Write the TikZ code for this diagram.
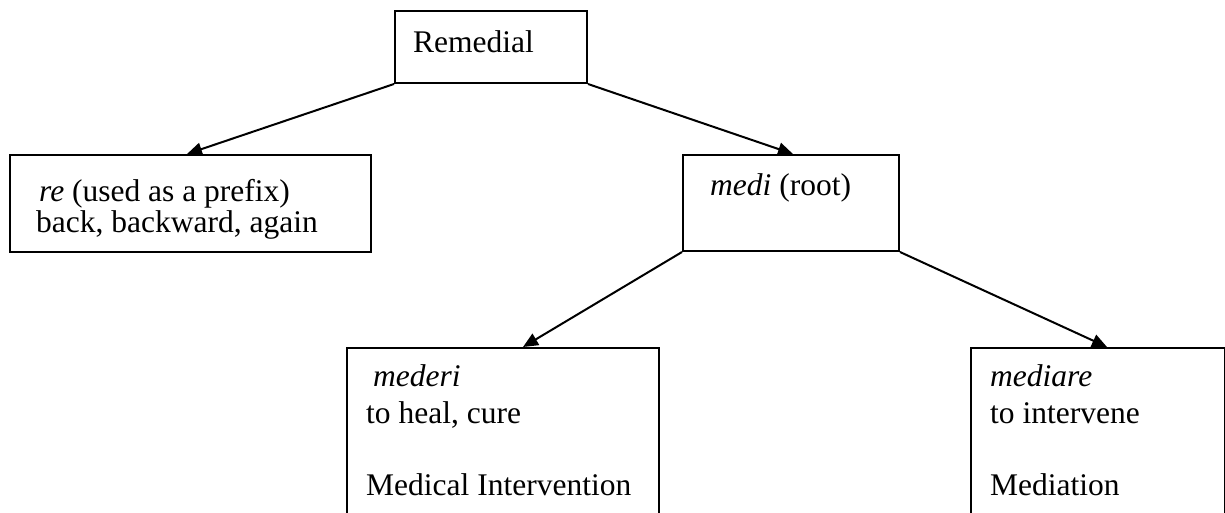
\documentclass[tikz,border=0pt]{standalone}
\usepackage{fontspec}
\setmainfont{Liberation Serif}
\usetikzlibrary{arrows.meta,calc}
\tikzset{
  box/.style={draw=black, line width=2pt, rectangle, inner sep=0pt, anchor=north west, fill=none},
  lbl/.style={anchor=base west, inner sep=0pt, font=\fontsize{31.5}{37}\selectfont},
  conn/.style={draw=black, line width=2pt, -{Triangle[length=15pt,width=13pt]}}
}
\begin{document}
\begin{tikzpicture}[x=1pt,y=-1pt]
\useasboundingbox (0,0) rectangle (1225,512);
\clip (0,0) rectangle (1225,512);
\fill[white] (0,0) rectangle (1225,512);
% boxes
\node[box, minimum width=192pt, minimum height=72pt] (rem) at (394,10) {};
\node[box, minimum width=361pt, minimum height=97pt] (re) at (9,154) {};
\node[box, minimum width=216pt, minimum height=96pt] (medi) at (682,154) {};
\node[box, minimum width=312pt, minimum height=200pt] (mederi) at (346,347) {};
\node[box, minimum width=254pt, minimum height=200pt] (mediare) at (970,347) {};
% texts
\node[lbl] (tRem) at (413,52) {Remedial};
\node[lbl] (tRe1) at (39,201) {\textit{re} (used as a prefix)};
\node[lbl] (tRe2) at (36,232) {back, backward, again};
\node[lbl] (tMedi) at (710,195) {\textit{medi} (root)};
\node[lbl] (tMederi1) at (373,386) {\textit{mederi}};
\node[lbl] (tMederi2) at (366,423) {to heal, cure};
\node[lbl] (tMederi3) at (366,495) {Medical Intervention};
\node[lbl] (tMediare1) at (990,386) {\textit{mediare}};
\node[lbl] (tMediare2) at (990,423) {to intervene};
\node[lbl] (tMediare3) at (990,495) {Mediation};
% connectors
\draw[conn] (rem.south west) -- ($(re.north west)+(178,0)$);
\draw[conn] (rem.south east) -- ($(medi.north west)+(111,0)$);
\draw[conn] (medi.south west) -- ($(mederi.north west)+(177,0)$);
\draw[conn] (medi.south east) -- ($(mediare.north west)+(137,0)$);
\end{tikzpicture}
\end{document}
